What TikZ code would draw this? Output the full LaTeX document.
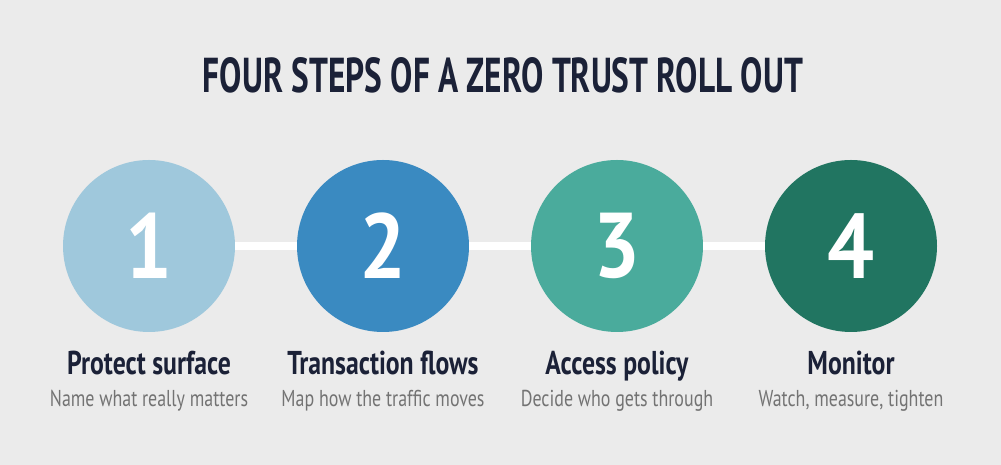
\documentclass[tikz,border=0pt]{standalone}
\usepackage{fontspec}
\setmainfont{PT Sans}
\newfontfamily\narrowfont[FakeStretch=0.78]{PT Sans}
\newfontfamily\titlefont[FakeStretch=0.68]{PT Sans}
\newfontfamily\numfont[FakeStretch=0.9]{PT Sans}
\usetikzlibrary{positioning}
\definecolor{paper}{HTML}{EBEBEB}
\definecolor{ink}{HTML}{1B2137}
\definecolor{subgray}{HTML}{737373}
\definecolor{stepA}{HTML}{9FC8DC}
\definecolor{stepB}{HTML}{3A8AC1}
\definecolor{stepC}{HTML}{4AAB9C}
\definecolor{stepD}{HTML}{217561}

\begin{document}
\begin{tikzpicture}[x=1pt, y=1pt,
    stepcircle/.style={circle, minimum size=172pt, inner sep=0pt, text=white,
                       font=\numfont\bfseries\fontsize{92}{92}\selectfont},
    link/.style={white, line width=8pt},
    head/.style={text=ink, font=\narrowfont\bfseries\fontsize{33}{33}\selectfont},
    subline/.style={text=subgray, font=\narrowfont\fontsize{23}{23}\selectfont}]
  \fill[paper] (0,0) rectangle (1001,465);
  \useasboundingbox (0,0) rectangle (1001,465);

  \def\gap{234}

  \node[text=ink, font=\titlefont\bfseries\fontsize{49}{49}\selectfont] (title)
    at (503,389.5) {FOUR STEPS OF A ZERO TRUST ROLL OUT};

  \foreach \col/\head/\sub [count=\i] in {stepA/Protect surface/Name what really matters,
                                         stepB/Transaction flows/Map how the traffic moves,
                                         stepC/Access policy/Decide who gets through,
                                         stepD/Monitor/{Watch, measure, tighten}}{
    \node[stepcircle, fill=\col] (s\i) at (149+\i*\gap-\gap,219) {\i};
    \node[head, anchor=base] (h\i) at (149+\i*\gap-\gap,90) {\head};
    \node[subline, anchor=base] (d\i) at (149+\i*\gap-\gap,58) {\sub};
  }

  \foreach \i/\j in {1/2, 2/3, 3/4}
    \draw[link] (s\i) -- (s\j);
\end{tikzpicture}
\end{document}
